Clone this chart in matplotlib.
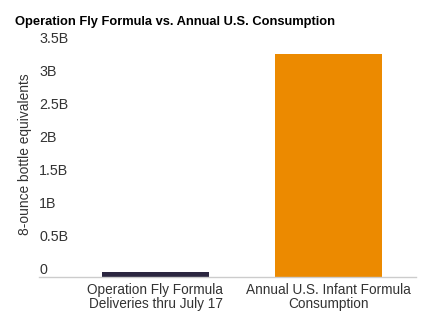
import matplotlib
matplotlib.use("Agg")
import matplotlib.pyplot as plt

categories = ["Operation Fly Formula\nDeliveries thru July 17", "Annual U.S. Infant Formula\nConsumption"]
values = [0.07e9, 3.38e9]
colors = ["#2b2640", "#ec8a00"]
yticks = [0, 0.5e9, 1e9, 1.5e9, 2e9, 2.5e9, 3e9, 3.5e9]
ytick_labels = ["0", "0.5B", "1B", "1.5B", "2B", "2.5B", "3B", "3.5B"]

font = "Liberation Sans"

fig = plt.figure(figsize=(4.38, 3.32), dpi=100)
W, H = 438, 332
ax = fig.add_axes([39 / W, 1 - 277 / H, (416 - 39) / W, (277 - 46) / H])

x = list(range(len(categories)))
ax.bar(x, values, width=0.62, color=colors, zorder=2)
ax.set_xlim(-0.673, 1.506)
ax.set_ylim(0, 3.5e9)

for s in ["top", "right", "left"]:
    ax.spines[s].set_visible(False)
ax.spines["bottom"].set_color("#cccccc")
ax.spines["bottom"].set_linewidth(1)

ax.set_yticks(yticks)
ax.set_yticklabels([])
ax.tick_params(axis="y", length=0)
for v, lab in zip(yticks, ytick_labels):
    ax.text(0, v, lab, transform=ax.get_yaxis_transform(), ha="left", va="bottom",
            fontsize=10.3, color="#333333", family=font)

ax.set_xticks(x)
ax.set_xticklabels(categories, fontsize=9.8, color="#333333", family=font, linespacing=1.05)
ax.tick_params(axis="x", length=0, pad=4)

fig.text(25 / W, 1 - 154 / H, "8-ounce bottle equivalents", rotation=90, ha="center", va="center",
         fontsize=9.9, color="#333333", family=font)
fig.text(15 / W, 1 - 22 / H, "Operation Fly Formula vs. Annual U.S. Consumption", ha="left", va="center",
         fontsize=9.3, fontweight="bold", color="#000000", family=font)

fig.savefig("out.png", dpi=100)
